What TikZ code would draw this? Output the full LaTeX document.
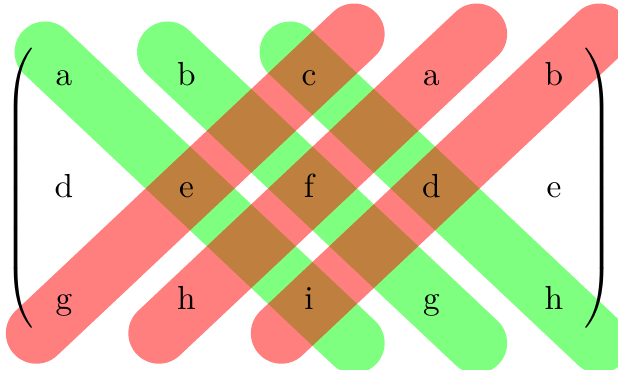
\documentclass[tikz,border=0pt]{standalone}
\usepackage{tikz}
\usetikzlibrary{matrix, backgrounds}

\begin{document}
\begin{tikzpicture}[x=0.3pt, y=-0.3pt,
    % 样式定义
    greenband/.style={green, opacity=0.5, line width=18.3pt, line cap=round,
        shorten <=-7.8pt, shorten >=-18.6pt},
    redband/.style={red, opacity=0.5, line width=18.3pt, line cap=round,
        shorten <=-11.4pt, shorten >=-18.6pt}
]
    \useasboundingbox (0,0) rectangle (618,369);

    % ▼ 矩阵 (左右圆括号)
    \matrix (m) at (309,188.5) [matrix of nodes,
        left delimiter=(, right delimiter=),
        row sep=19.6pt, column sep=27.75pt,
        nodes={minimum width=9pt, minimum height=14pt,
            text height=1.5ex, text depth=.25ex, inner sep=0pt}]
    {
        a & b & c & a & b \\
        d & e & f & d & e \\
        g & h & i & g & h \\
    };

    % ▼ 斜带 (放在背景层)
    \begin{scope}[on background layer]
        \clip (0,0) rectangle (618,369);

        % 绿色: 左上 -> 右下
        \draw[greenband] ([yshift=2pt]m-1-1.center) -- (m-3-3.center);
        \draw[greenband] ([yshift=2pt]m-1-2.center) -- (m-3-4.center);
        \draw[greenband] ([yshift=2pt]m-1-3.center) -- (m-3-5.center);

        % 红色: 左下 -> 右上
        \draw[redband] ([yshift=-2pt]m-3-1.center) -- (m-1-3.center);
        \draw[redband] ([yshift=-2pt]m-3-2.center) -- (m-1-4.center);
        \draw[redband] ([yshift=-2pt]m-3-3.center) -- (m-1-5.center);
    \end{scope}

\end{tikzpicture}
\end{document}
